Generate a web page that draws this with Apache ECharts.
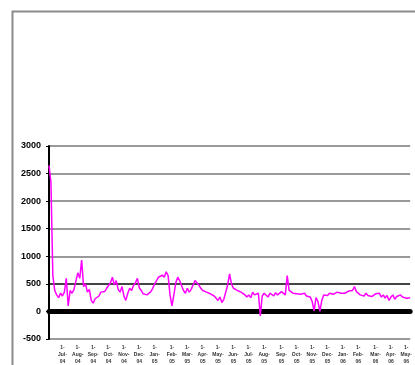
<!DOCTYPE html>
<html>
<head>
<meta charset="utf-8">
<script src="https://cdn.jsdelivr.net/npm/echarts@6/dist/echarts.min.js"></script>
<style>
  html, body { margin: 0; padding: 0; background: #fff; }
  #chart { width: 415px; height: 365px; }
</style>
</head>
<body>
<div id="chart"></div>
<script>
// Series readings, one per sample
const seriesValues = [
  2650, 2350, 650, 380, 300, 250, 330, 280, 350, 600,
  100, 380, 330, 400, 550, 700, 600, 930, 450, 500,
  350, 400, 200, 150, 230, 220, 280, 350, 370, 360,
  420, 400, 520, 620, 480, 560, 400, 350, 450, 280,
  200, 330, 420, 380, 470, 520, 600, 430, 380, 320,
  350, 300, 330, 360, 420, 500, 560, 620, 600, 660,
  620, 720, 650, 300, 100, 300, 520, 620, 560, 470,
  380, 330, 420, 350, 400, 480, 560, 520, 480, 420,
  380, 400, 350, 360, 320, 300, 280, 240, 200, 260,
  160, 220, 350, 480, 680, 500, 420, 440, 380, 400,
  350, 380, 300, 260, 300, 250, 350, 300, 270, 330,
  -80, 280, 330, 300, 260, 330, 300, 280, 340, 300,
  330, 360, 340, 300, 650, 380, 360, 330, 350, 320,
  340, 310, 300, 330, 280, 300, 260, 180, 10, 250,
  180, 0, 200, 300, 320, 290, 330, 340, 310, 330,
  350, 340, 330, 360, 330, 350, 370, 340, 380, 450,
  360, 340, 300, 320, 280, 330, 290, 310, 270, 300,
  320, 290, 330, 260, 300, 240, 290, 200, 260, 300,
  220, 270, 250, 300, 260, 280, 240, 270, 250
];

// Date labels shown along the category axis
const tickLabels = [
  '1-\nJul-\n04', '1-\nAug-\n04', '1-\nSep-\n04', '1-\nOct-\n04', '1-\nNov-\n04',
  '1-\nDec-\n04', '1-\nJan-\n05', '1-\nFeb-\n05', '1-\nMar-\n05', '1-\nApr-\n05',
  '1-\nMay-\n05', '1-\nJun-\n05', '1-\nJul-\n05', '1-\nAug-\n05', '1-\nSep-\n05',
  '1-\nOct-\n05', '1-\nNov-\n05', '1-\nDec-\n05', '1-\nJan-\n06', '1-\nFeb-\n06',
  '1-\nMar-\n06', '1-\nApr-\n06', '1-\nMay-\n06'
];

// Y axis range
const yMin = -500, yMax = 3000, yStep = 500;

// Which sample index carries each date label
const labelAt = {};
tickLabels.forEach((t, k) => { labelAt[Math.round(6.5 + k * 8.15)] = t; });

const categories = seriesValues.map((_, i) => i);

const chart = echarts.init(document.getElementById('chart'), null, { renderer: 'canvas' });
const step = 2;
chart.setOption({
  animation: false,
  backgroundColor: '#ffffff',
  graphic: [{
    type: 'rect',
    left: 10, top: 9,
    shape: { x: 0, y: 0, width: 430, height: 380 },
    style: { fill: 'none', stroke: '#8a8a8a', lineWidth: 2 },
    silent: true, z: 0
  }],
  grid: {
    left: 49, top: 146,
    width: (seriesValues.length - 1) * step,
    height: 195
  },
  xAxis: {
    type: 'category',
    data: categories,
    boundaryGap: false,
    axisLine: { onZero: true, lineStyle: { color: '#000', width: 5 } },
    axisTick: { show: false },
    axisLabel: {
      interval: (idx) => labelAt[idx] !== undefined,
      formatter: (v, idx) => labelAt[idx] || '',
      fontFamily: 'Liberation Sans Narrow, Liberation Sans, sans-serif',
      fontWeight: 'bold',
      fontSize: 5,
      lineHeight: 7,
      color: '#333',
      margin: 5
    },
    splitLine: { show: false }
  },
  yAxis: {
    type: 'value',
    min: yMin, max: yMax, interval: yStep,
    axisLine: { show: true, lineStyle: { color: '#000', width: 2 } },
    axisTick: { show: true, length: 3, lineStyle: { color: '#000' } },
    axisLabel: {
      formatter: (v) => String(v),
      fontFamily: 'Liberation Sans Narrow, Liberation Sans, sans-serif',
      fontWeight: 'bold',
      fontSize: 9,
      color: '#000',
      margin: 8
    },
    splitLine: {
      show: true,
      lineStyle: {
        color: ['#999', '#000', '#444', '#999', '#999', '#999', '#999', '#999'],
        width: 2
      }
    }
  },
  series: [{
    type: 'line',
    data: seriesValues,
    smooth: false,
    symbol: 'none',
    lineStyle: { color: '#ff00ff', width: 1.5 },
    z: 3
  }]
});
</script>
</body>
</html>
